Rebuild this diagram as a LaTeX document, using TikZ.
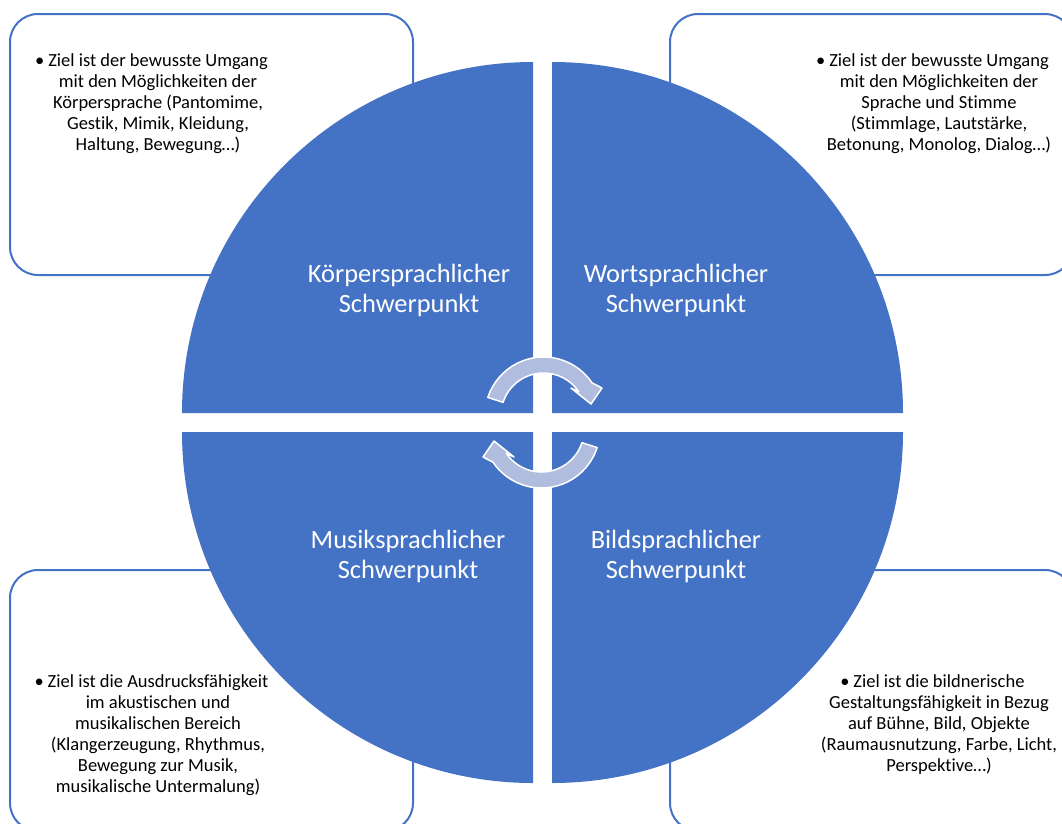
\documentclass[tikz,border=0pt]{standalone}
\usepackage[]{fontspec}
\setmainfont[Ligatures = NoCommon]{Carlito}
\usetikzlibrary{positioning}
\definecolor{quadblue}{RGB}{68,114,196}
\definecolor{arrowblue}{RGB}{176,189,223}
\tikzset{infobox/.style = {draw = quadblue, line width = 2pt, rounded corners = 28pt, minimum width = 403pt, minimum height = 261pt, inner sep = 0}}
\tikzset{quad/.style = {fill = quadblue}}
\tikzset{quadtext/.style = {text = white, align = center, font = \fontsize{26.4}{30}\selectfont}}
\tikzset{infotext/.style = {align = center, font = \fontsize{18.5}{21}\selectfont}}
\tikzset{cyclearrow/.style = {fill = arrowblue, draw = white, line width = 1.5pt, line join = round}}

\begin{document}
\begin{tikzpicture}[x = 1pt, y = -1pt]
            \useasboundingbox (0,0) rectangle (1062,823);
            \clip (0,0) rectangle (1062,823);
            \node [infobox] (koerperbox) at (211.5,144.5) {};
            \node [infobox] (wortbox) at (871.5,144.5) {};
            \node [infobox] (musikbox) at (211.5,700.5) {};
            \node [infobox] (bildbox) at (871.5,700.5) {};
            \fill [quad] (533,413) -- (182,413) arc [start angle = 180, end angle = 270, radius = 351] -- cycle;
            \fill [quad] (552,413) -- (552,62) arc [start angle = 270, end angle = 360, radius = 351] -- cycle;
            \fill [quad] (552,432) -- (903,432) arc [start angle = 0, end angle = 90, radius = 351] -- cycle;
            \fill [quad] (533,432) -- (533,783) arc [start angle = 90, end angle = 180, radius = 351] -- cycle;
            \coordinate (ctr) at (542.5,422.5);
            \filldraw [cyclearrow] ([shift = {(198:58.5)}] 543.5,415.5) arc [start angle = 198, end angle = 326, radius = 58.5] -- (602,388) -- (591,404) -- (571,388) -- ([shift = {(326:42.5)}] 543.5,415.5) arc [start angle = 326, end angle = 198, radius = 42.5] -- cycle;
            \begin{scope}[rotate around = {180:(ctr)}]
                \filldraw [cyclearrow] ([shift = {(198:58.5)}] 543.5,415.5) arc [start angle = 198, end angle = 326, radius = 58.5] -- (602,388) -- (591,404) -- (571,388) -- ([shift = {(326:42.5)}] 543.5,415.5) arc [start angle = 326, end angle = 198, radius = 42.5] -- cycle;
            \end{scope}
            \node [quadtext] (koerper) at (409,290) {Körpersprachlicher\\Schwerpunkt};
            \node [quadtext] (wort) at (676,290) {Wortsprachlicher\\Schwerpunkt};
            \node [quadtext] (musik) at (408,556) {Musiksprachlicher\\Schwerpunkt};
            \node [quadtext] (bild) at (676,556) {Bildsprachlicher\\Schwerpunkt};
            \node [infotext] (koerperinfo) at (158,103.5) {\llap{•\hspace{4pt}}Ziel ist der bewusste Umgang\\mit den Möglichkeiten der\\Körpersprache (Pantomime,\\Gestik, Mimik, Kleidung,\\Haltung, Bewegung…)};
            \node [infotext] (wortinfo) at (939,103.5) {\llap{•\hspace{4pt}}Ziel ist der bewusste Umgang\\mit den Möglichkeiten der\\Sprache und Stimme\\(Stimmlage, Lautstärke,\\Betonung, Monolog, Dialog…)};
            \node [infotext] (musikinfo) at (158,735) {\llap{•\hspace{4pt}}Ziel ist die Ausdrucksfähigkeit\\im akustischen und\\musikalischen Bereich\\(Klangerzeugung, Rhythmus,\\Bewegung zur Musik,\\musikalische Untermalung)};
            \node [infotext] (bildinfo) at (939,724.5) {\llap{•\hspace{4pt}}Ziel ist die bildnerische\\Gestaltungsfähigkeit in Bezug\\auf Bühne, Bild, Objekte\\(Raumausnutzung, Farbe, Licht,\\Perspektive…)};
        \end{tikzpicture}
\end{document}
